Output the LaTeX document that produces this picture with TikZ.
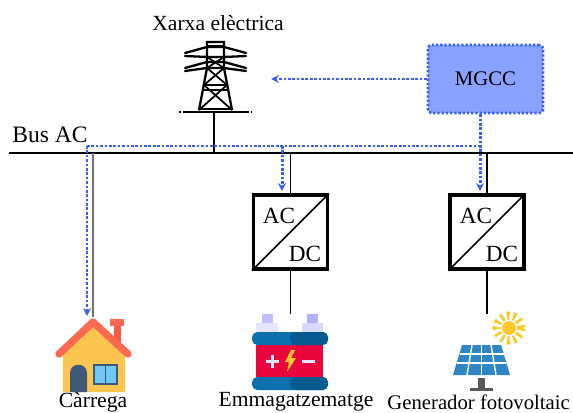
\documentclass[tikz,border=0pt]{standalone}
\usepackage{fontspec}
\setmainfont{Liberation Serif}
\definecolor{blauMGCC}{HTML}{8AA2FF}
\definecolor{blauSenyal}{HTML}{3A60FA}
\definecolor{blauBat}{HTML}{0C70AE}
\definecolor{blauBatFosc}{HTML}{075A90}
\definecolor{vermellBat}{HTML}{E8063C}
\definecolor{teulada}{HTML}{F96A50}
\definecolor{paret}{HTML}{FBC54F}
\definecolor{porta}{HTML}{3F5A78}
\definecolor{finestra}{HTML}{72C8F5}
\definecolor{blauFV}{HTML}{2F86C6}
\definecolor{sol}{HTML}{FBC92D}
\tikzset{
  etiqueta/.style={inner sep=0pt,font=\fontsize{12.3}{14}\selectfont},
  convText/.style={inner sep=0pt,font=\fontsize{13.2}{15}\selectfont},
  conversor/.style={draw,line width=1.8pt,minimum size=1.48cm,inner sep=0pt},
  linia/.style={line width=0.85pt},
  senyal/.style={blauSenyal,line width=1.7pt,dash pattern=on 1.5pt off 1pt},
  senyalFletxa/.style={senyal,-{Stealth[length=4.5pt,width=4.5pt]}},
}
\usetikzlibrary{arrows.meta}
\begin{document}
\begin{tikzpicture}[x=0.02cm,y=-0.02cm]
	\useasboundingbox (0,0) rectangle (573,412);
	%Bus
	\coordinate (busL) at (9,153);
	\coordinate (busR) at (573,153);
	\coordinate (torre) at (214,112);
	\coordinate (casa) at (93,317);
	\coordinate (bateria) at (290.5,314);
	\coordinate (panell) at (487,314);
	\coordinate (senyalBus) at (87,146);
	\draw[linia] (busL) -- (busR);
	\node[etiqueta,font=\fontsize{13.4}{15}\selectfont,anchor=base west] (busNom) at (12,142) {Bus AC};

	%Conversors
	\node[conversor] (conv1) at (290.5,232) {};
	\node[conversor] (conv2) at (487,232) {};
	\draw[linia] (conv1.south west) -- (conv1.north east);
	\draw[linia] (conv2.south west) -- (conv2.north east);
	\node[convText] (ac1) at (279,216) {AC};
	\node[convText] (dc1) at (305,254) {DC};
	\node[convText] (ac2) at (476,216) {AC};
	\node[convText] (dc2) at (502,254) {DC};

	%Control
	\node[draw=blauSenyal,fill=blauMGCC,line width=1.5pt,dash pattern=on 1.3pt off 1.1pt,rounded corners=2pt,minimum width=2.3cm,minimum height=1.36cm,inner sep=0pt,font=\fontsize{11.8}{14}\selectfont] (mgcc) at (485.5,79) {MGCC};

	%Connexions
	\draw[linia] (torre) -- (torre |- busL);
	\draw[line width=1.2pt,black!55] (casa) -- (casa |- busL);
	\draw[linia] (conv1.north) -- (conv1.north |- busL);
	\draw[linia] (conv2.north) -- (conv2.north |- busL);
	\draw[linia] (conv1.south) -- (bateria);
	\draw[linia] (conv2.south) -- (panell);

	%Senyals
	\coordinate (senyalMig) at (282,146);
	\coordinate (senyalDreta) at (480,146);
	\coordinate (senyalCasa) at (87,316);
	\coordinate (senyalConv) at (282,191);
	\coordinate (senyalFV) at (480,191);
	\coordinate (senyalTorre) at (271,79);
	\draw[senyal] (senyalBus) -- (senyalDreta);
	\draw[senyalFletxa] (senyalBus) -- (senyalCasa);
	\draw[senyalFletxa] (senyalMig) -- (senyalConv);
	\draw[senyalFletxa] (mgcc.south -| senyalDreta) -- (senyalFV);
	\draw[senyalFletxa] (mgcc.west) -- (senyalTorre);

	%Torre
	\begin{scope}[line width=1pt]
		\draw[line width=1.1pt] (183,112) -- (247,112);
		\draw[line width=1pt,densely dotted] (179,112) -- (183,112);
		\draw[line width=1pt,densely dotted] (247,112) -- (252,112);
		\draw[line width=1.3pt] (199,110) -- (207,68) -- (207,42) -- (224,42) -- (224,68) -- (232,110);
		\draw (207,46) -- (224,46);
		\draw[line width=1.3pt,line cap=round] (185,53) -- (207,47) -- (224,47) -- (246,53);
		\draw[line width=1.3pt,line cap=round] (185,56) -- (208,57) -- (224,57) -- (246,56);
		\draw[line width=1.3pt,line cap=round] (185,68) -- (207,62) -- (224,62) -- (246,68);
		\draw[line width=1.3pt,line cap=round] (185,71) -- (207,68) -- (224,68) -- (246,71);
		\draw (207,57) -- (224,68);
		\draw (224,57) -- (207,68);
		\draw (204,85) -- (227,85);
		\draw (204,90) -- (227,90);
		\draw (207,68) -- (227,85);
		\draw (224,68) -- (204,85);
		\draw (204,85) -- (232,110);
		\draw (227,85) -- (199,110);
		\draw[line width=1.3pt] (199,109) -- (232,109);
	\end{scope}
	\node[etiqueta] (xarxa) at (218,23) {Xarxa elèctrica};

	%Casa
	\fill[paret] (63,350) -- (93,325) -- (125,350) -- (125,392) -- (63,392) -- cycle;
	\fill[teulada!85!red] (114,325) rectangle (121,342);
	\fill[teulada] (110,319) rectangle (124,326);
	\draw[teulada,line width=4.2pt,line cap=round,line join=round] (59,354) -- (93,322) -- (128,354);
	\fill[porta] (70,392) -- (70,373) .. controls (70,362) and (87,362) .. (87,373) -- (87,392) -- cycle;
	\draw[fill=finestra,draw=porta,line width=0.8pt] (94,365) rectangle (117,384);
	\draw[porta,line width=0.8pt] (105.5,365) -- (105.5,384);
	\node[etiqueta] (carrega) at (93,402) {Càrrega};

	%Bateria
	\fill[blue!25!white] (262,314) rectangle (273,323);
	\fill[blue!10!white] (256,323) rectangle (278,332);
	\fill[blue!30!white] (307,314) rectangle (318,323);
	\fill[blue!15!white] (302,323) rectangle (323,332);
	\fill[vermellBat] (256,345) rectangle (323,377);
	\fill[blauBat,rounded corners=3pt] (252,332) rectangle (328,345);
	\fill[blauBat,rounded corners=3pt] (252,377) rectangle (328,390);
	\fill[blauBatFosc,rounded corners=3pt] (290,332) rectangle (328,345);
	\fill[blauBatFosc,rounded corners=3pt] (290,377) rectangle (328,390);
	\fill[blue!10!white] (266,359.5) rectangle (279,363);
	\fill[blue!10!white] (270.8,355) rectangle (274.2,367.5);
	\fill[blue!10!white] (302,359.5) rectangle (315,363);
	\fill[sol] (291,350) -- (285,362) -- (289,362) -- (287,372) -- (296,358) -- (291,358) -- (295,350) -- cycle;
	\node[etiqueta] (emma) at (296,402) {Emmagatzematge};

	%Panell
	\fill[blauFV] (462,345) -- (501,345) -- (510,375) -- (453,375) -- cycle;
	\draw[white,line width=0.8pt] (459.5,354) -- (503.5,354);
	\draw[white,line width=0.8pt] (457,363) -- (506,363);
	\draw[white,line width=0.8pt] (472,345) -- (467,375);
	\draw[white,line width=0.8pt] (481.5,345) -- (481.5,375);
	\draw[white,line width=0.8pt] (491,345) -- (496,375);
	\fill[black!65] (478,378) rectangle (485,388);
	\fill[black!65] (470,388) rectangle (493,391);
	\draw[sol,line width=4.6pt,dash pattern=on 1.5pt off 2.07pt] (509,328) circle (12.5);
	\fill[sol] (509,328) circle (7);
	\node[etiqueta,font=\fontsize{11.8}{14}\selectfont,anchor=west] (fotovoltaic) at (387,402) {Generador fotovoltaic};
\end{tikzpicture}
\end{document}
